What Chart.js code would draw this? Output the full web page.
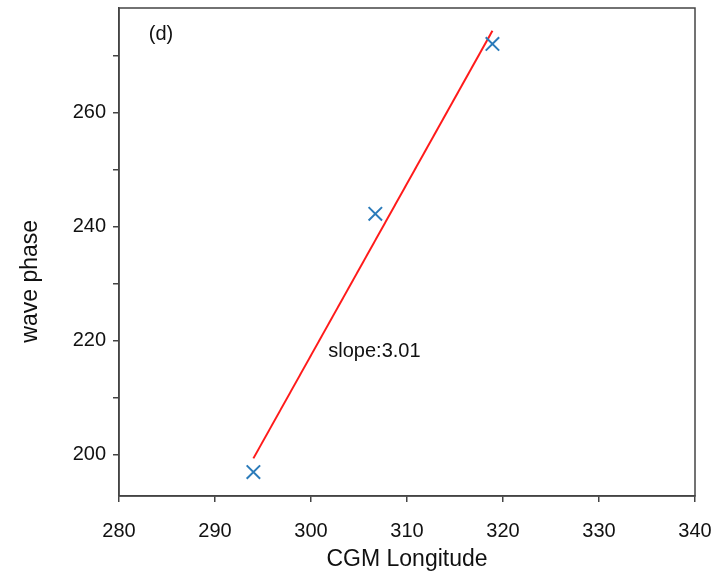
<!DOCTYPE html>
<html>
<head>
<meta charset="utf-8">
<script src="https://cdn.jsdelivr.net/npm/chart.js@4"></script>
<style>
html,body{margin:0;padding:0;background:#fff;}
#wrap{position:relative;width:719px;height:571px;}
</style>
</head>
<body>
<div id="wrap"><canvas id="c" width="719" height="571"></canvas></div>
<script>
// Data
const longitudes = [294.0, 306.7, 318.9];
const phases = [197.0, 242.3, 272.1];
const fitX = [294.0, 318.9];
const fitY = [199.4, 274.4];
const xTicks = [280, 290, 300, 310, 320, 330, 340];
const yTickLabels = [200, 220, 240, 260];
const panelLabel = '(d)';
const slopeLabel = 'slope:3.01';
const yTitle = 'wave phase';
const panelLabelPos = [283.1, 273.7];
const slopeLabelPos = [301.8, 218.1];

const FONT = "'Liberation Sans', Arial, sans-serif";
const AXIS_COLOR = '#444444';

const framePlugin = {
  id: 'frame',
  afterDraw(chart) {
    const {ctx, chartArea: a, scales} = chart;
    ctx.save();
    ctx.strokeStyle = AXIS_COLOR;
    ctx.lineWidth = 1.5;
    ctx.strokeRect(a.left, a.top, a.right - a.left, a.bottom - a.top);
    ctx.fillStyle = '#111';
    ctx.font = '20px ' + FONT;
    ctx.textAlign = 'left';
    ctx.textBaseline = 'middle';
    ctx.fillText(panelLabel, scales.x.getPixelForValue(panelLabelPos[0]), scales.y.getPixelForValue(panelLabelPos[1]));
    ctx.fillText(slopeLabel, scales.x.getPixelForValue(slopeLabelPos[0]), scales.y.getPixelForValue(slopeLabelPos[1]));
    // y-axis title (offset below centre, as in the reference)
    ctx.font = '23px ' + FONT;
    ctx.textAlign = 'center';
    ctx.translate(31, a.top + (a.bottom - a.top) * 0.56);
    ctx.rotate(-Math.PI / 2);
    ctx.fillText(yTitle, 0, 0);
    ctx.restore();
  }
};

new Chart(document.getElementById('c'), {
  type: 'scatter',
  data: {
    datasets: [
      {
        label: 'fit',
        type: 'line',
        data: fitX.map((x, i) => ({x, y: fitY[i]})),
        borderColor: '#ff1a1a',
        borderWidth: 2,
        pointRadius: 0,
        fill: false,
        order: 2
      },
      {
        label: 'phase',
        data: longitudes.map((x, i) => ({x, y: phases[i]})),
        pointStyle: 'crossRot',
        pointRadius: 9.5,
        pointBorderWidth: 2,
        borderColor: '#2b7bba',
        backgroundColor: '#2b7bba',
        order: 1
      }
    ]
  },
  options: {
    responsive: false,
    animation: false,
    layout: {autoPadding: false, padding: {top: 8, right: 24, left: 0, bottom: 0}},
    plugins: {legend: {display: false}, tooltip: {enabled: false}},
    scales: {
      x: {
        type: 'linear',
        min: xTicks[0],
        max: xTicks[xTicks.length - 1],
        afterFit(s) { s.height = 75; s.paddingLeft = 0; s.paddingRight = 0; },
        afterBuildTicks(s) { s.ticks = xTicks.map(v => ({value: v})); },
        ticks: {
          font: {family: FONT, size: 20},
          color: '#111',
          padding: 17,
          maxRotation: 0
        },
        grid: {drawOnChartArea: false, drawTicks: true, tickLength: 6, color: AXIS_COLOR, lineWidth: 1.5},
        border: {display: true, color: AXIS_COLOR, width: 1.5},
        title: {display: true, text: 'CGM Longitude', color: '#111', font: {family: FONT, size: 23, lineHeight: 1}, padding: {top: 0, bottom: 0}}
      },
      y: {
        type: 'linear',
        min: 192.8,
        max: 278.4,
        afterFit(s) { s.width = 119; s.paddingTop = 0; s.paddingBottom = 0; },
        ticks: {
          stepSize: 10,
          includeBounds: false,
          font: {family: FONT, size: 20},
          color: '#111',
          padding: 7,
          callback: (v) => yTickLabels.includes(v) ? String(v) : ''
        },
        grid: {drawOnChartArea: false, drawTicks: true, tickLength: 6, color: AXIS_COLOR, lineWidth: 1.5},
        border: {display: true, color: AXIS_COLOR, width: 1.5},
        title: {display: false}
      }
    }
  },
  plugins: [framePlugin]
});
</script>
</body>
</html>
